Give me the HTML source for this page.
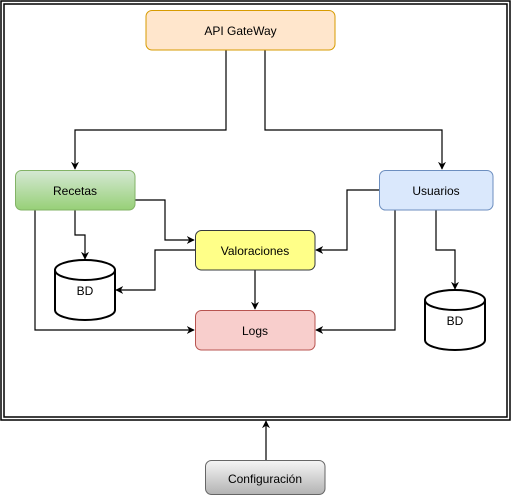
<!DOCTYPE html>
<html><head><meta charset="utf-8"><style>html,body{margin:0;padding:0;background:#fff;}svg{display:block}</style></head>
<body>
<svg width="511" height="496" viewBox="0 0 511 496" xmlns="http://www.w3.org/2000/svg" font-family="Liberation Sans, sans-serif" font-size="12">
<defs>
<linearGradient id="g1" x1="0" y1="0" x2="0" y2="1"><stop offset="0" stop-color="#d5e8d4"/><stop offset="1" stop-color="#97d077"/></linearGradient>
<linearGradient id="g2" x1="0" y1="0" x2="0" y2="1"><stop offset="0" stop-color="#f5f5f5"/><stop offset="1" stop-color="#b3b3b3"/></linearGradient>
<marker id="a" viewBox="0 0 10 10" refX="9" refY="5" markerWidth="8" markerHeight="8" orient="auto" markerUnits="userSpaceOnUse"><path d="M0,0 L10,5 L0,10 L3,5 z" fill="#000"/></marker>
</defs>
<rect x="1" y="1" width="509" height="419" fill="none" stroke="#000" stroke-width="1.5"/>
<rect x="4" y="4" width="503" height="413" fill="none" stroke="#000" stroke-width="1.5"/>

<g fill="none" stroke="#000" stroke-width="1.2">
<path d="M226,50 V130 H75 V169" marker-end="url(#a)"/>
<path d="M265,50 V130 H442 V169" marker-end="url(#a)"/>
<path d="M135,200 H165 V240 H194" marker-end="url(#a)"/>
<path d="M75,210 V235 H85 V259" marker-end="url(#a)"/>
<path d="M35,210 V330 H194" marker-end="url(#a)"/>
<path d="M195,250 H155 V290 H116" marker-end="url(#a)"/>
<path d="M255,270 V309" marker-end="url(#a)"/>
<path d="M379,190 H347 V250 H316" marker-end="url(#a)"/>
<path d="M395,210 V330 H316" marker-end="url(#a)"/>
<path d="M436,210 V250 H455 V289" marker-end="url(#a)"/>
<path d="M266,460 V421" marker-end="url(#a)"/>
</g>

<rect x="146" y="10.5" width="189" height="39.5" rx="6" fill="#ffe6cc" stroke="#d79b00"/>
<text x="240.5" y="35" text-anchor="middle">API GateWay</text>
<rect x="15.5" y="170.5" width="119.5" height="39.5" rx="6" fill="url(#g1)" stroke="#82b366"/>
<text x="75" y="195" text-anchor="middle">Recetas</text>
<rect x="379.5" y="170.5" width="113.5" height="39.5" rx="6" fill="#dae8fc" stroke="#6c8ebf"/>
<text x="436" y="195" text-anchor="middle">Usuarios</text>
<rect x="195.5" y="230.5" width="119.5" height="39.5" rx="6" fill="#ffff88" stroke="#36393d"/>
<text x="255" y="255" text-anchor="middle">Valoraciones</text>
<rect x="195.5" y="310.5" width="119.5" height="39.5" rx="6" fill="#f8cecc" stroke="#b85450"/>
<text x="255" y="335" text-anchor="middle">Logs</text>
<rect x="205.5" y="460.5" width="119.5" height="34" rx="6" fill="url(#g2)" stroke="#666"/>
<text x="265" y="483" text-anchor="middle">Configuración</text>

<g stroke="#000" stroke-width="2" fill="#fff">
<path d="M55,270 A30,10 0 0 1 115,270 V310 A30,10 0 0 1 55,310 Z"/>
<path d="M55,270 A30,10 0 0 0 115,270" fill="none"/>
<path d="M425,300 A30,10 0 0 1 485,300 V340 A30,10 0 0 1 425,340 Z"/>
<path d="M425,300 A30,10 0 0 0 485,300" fill="none"/>
</g>
<text x="85" y="295" text-anchor="middle">BD</text>
<text x="455" y="325" text-anchor="middle">BD</text>
</svg>
</body></html>
